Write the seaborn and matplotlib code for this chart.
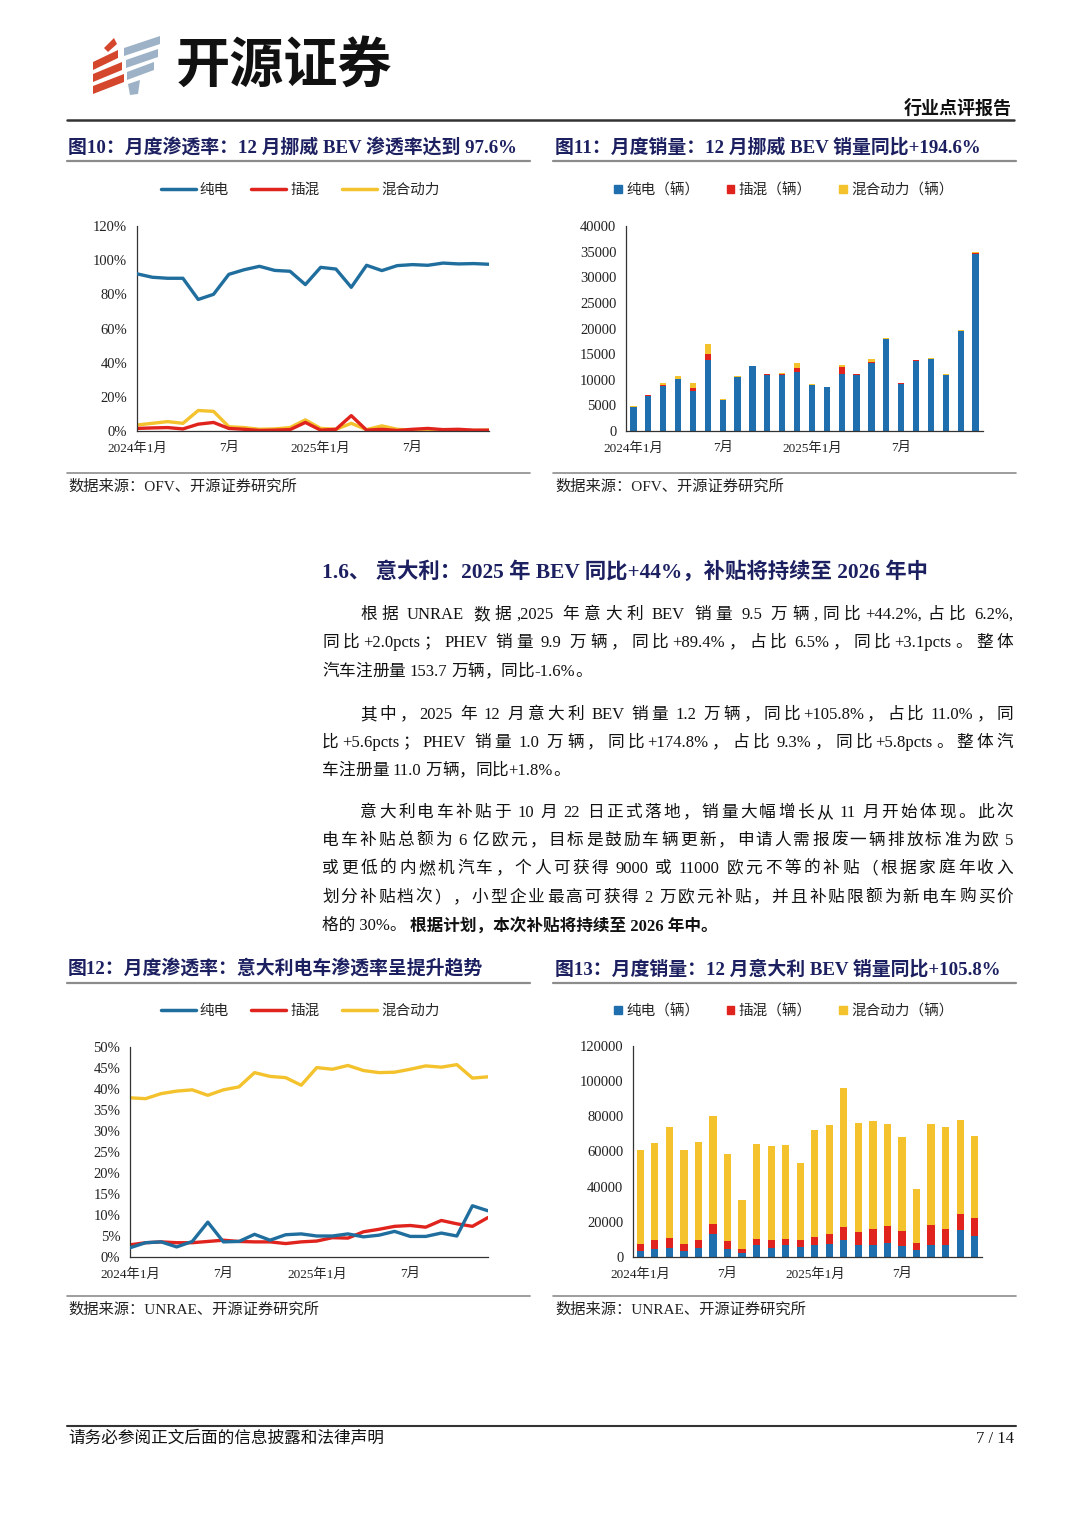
import re
import matplotlib
matplotlib.use("Agg")
import matplotlib.pyplot as plt
import seaborn as sns
from matplotlib.patches import Polygon, Patch
from matplotlib.lines import Line2D

# ---- data ----
months = list(range(24))  # 2024-01 .. 2025-12
tick_pos = [0, 6, 12, 18]
tick_txt = ['2024年1月', '7月', '2025年1月', '7月']

# 挪威 渗透率 (%)
no_bev_pct = [92.0, 90.0, 89.4, 89.4, 77.0, 80.0, 91.7, 94.4, 96.4, 94.0, 93.5, 85.7,
              95.8, 94.8, 84.1, 97.0, 93.9, 96.8, 97.4, 97.0, 98.3, 97.8, 98.0, 97.6]
no_phev_pct = [1.5, 1.8, 2.0, 1.2, 4.0, 5.0, 1.5, 1.0, 0.3, 0.5, 0.8, 5.0,
               0.5, 1.0, 9.0, 0.5, 1.0, 0.3, 1.0, 1.5, 0.8, 1.0, 0.5, 0.5]
no_hev_pct = [3.5, 4.5, 5.5, 4.5, 12.0, 11.5, 2.5, 2.0, 1.0, 1.2, 2.0, 6.5,
              1.5, 1.0, 4.5, 0.8, 3.0, 1.0, 0.5, 0.5, 0.5, 0.3, 0.3, 0.5]

# 挪威 销量 (辆)
no_bev = [4700, 6800, 8800, 10100, 7900, 13900, 6000, 10500, 12600, 11000, 11000, 11500,
          9000, 8500, 11200, 11000, 13300, 17900, 9200, 13600, 14000, 10900, 19500, 34500]
no_phev = [80, 130, 200, 140, 410, 1100, 90, 110, 40, 60, 90, 800,
           50, 90, 1300, 60, 140, 50, 90, 200, 110, 110, 100, 180]
no_hev = [180, 150, 400, 450, 1100, 1900, 100, 150, 100, 120, 200, 1000,
          100, 90, 400, 90, 700, 150, 50, 60, 70, 40, 60, 180]

# 意大利 渗透率 (%)
it_bev_pct = [2.2, 3.4, 3.6, 2.4, 3.7, 8.3, 3.6, 3.7, 5.4, 4.0, 5.3, 5.5,
              5.0, 5.0, 5.5, 4.8, 5.2, 6.1, 4.9, 4.9, 5.7, 5.0, 12.2, 11.0]
it_phev_pct = [2.9, 3.4, 3.6, 3.4, 3.4, 3.7, 4.0, 3.7, 3.6, 3.6, 3.2, 3.6,
               3.8, 4.6, 4.5, 6.0, 6.6, 7.3, 7.5, 7.1, 8.7, 7.9, 7.3, 9.4]
it_hev_pct = [37.9, 37.7, 38.9, 39.5, 39.8, 38.5, 39.8, 40.5, 43.9, 43.0, 42.7, 40.9,
              45.1, 44.7, 45.6, 44.4, 43.9, 44.0, 44.7, 45.5, 45.2, 45.8, 42.6, 42.9]

# 意大利 销量 (辆)
it_bev = [3400, 4700, 5100, 3400, 4900, 13300, 4400, 2500, 6600, 5300, 6600, 5700,
          6600, 7200, 9500, 6600, 7000, 8000, 6100, 3800, 7000, 6600, 15200, 11800]
it_phev = [3800, 4800, 5900, 4200, 4600, 5700, 4500, 2200, 3800, 4200, 3800, 3800,
           4800, 5700, 7600, 7800, 8900, 9500, 8700, 4400, 11200, 9300, 9100, 10400]
it_hev = [53600, 55400, 62700, 53500, 55800, 61100, 49600, 28000, 53600, 53700, 53400, 43900,
          60700, 62100, 78800, 61900, 61400, 57900, 53200, 30300, 57200, 58000, 53400, 46700]

line_labels = ['纯电', '插混', '混合动力']
bar_labels = ['纯电（辆）', '插混（辆）', '混合动力（辆）']

C_BLUE, C_RED, C_YEL = '#1f6fae', '#e0231c', '#f3c22c'
C_LBLUE = '#206e9e'
NAVY = '#1c2060'

sns.set_theme(style='white')
plt.rcParams['font.family'] = ['Liberation Serif', 'Noto Sans CJK SC', 'DejaVu Sans']
plt.rcParams['axes.unicode_minus'] = False

W, H = 1080, 1526
fig = plt.figure(figsize=(W / 100, H / 100), dpi=100)


def box(l, t, r, b):
    return [l / W, 1 - b / H, (r - l) / W, (b - t) / H]


def ftxt(x, y, s, **kw):
    kw.setdefault('va', 'center')
    return fig.text(x / W, 1 - y / H, s, **kw)


def hline(x0, x1, y, lw=1.0, color='#808080'):
    fig.add_artist(Line2D([x0 / W, x1 / W], [1 - y / H, 1 - y / H], lw=lw, color=color))


def justify(x, y, s, right, fontsize=12, **kw):
    # spread the line over x..right like the justified text of the report
    r = fig.canvas.get_renderer()
    toks = re.findall(r'[A-Za-z0-9.+\-%,]+| |.', s)
    sw = 0.25 * fontsize * 100 / 72
    objs, widths = [], []
    for tk in toks:
        if tk == ' ':
            objs.append(None)
            widths.append(sw)
            continue
        o = ftxt(x, y, tk, fontsize=fontsize, **kw)
        objs.append(o)
        widths.append(o.get_window_extent(renderer=r).width)
    n_words = sum(o is not None for o in objs)
    extra = max(0.0, (right - x - sum(widths)) / max(n_words - 1, 1))
    cur = x
    for o, w in zip(objs, widths):
        if o is None:
            cur += w
            continue
        o.set_x(cur / W)
        cur += w + extra


def style_ax(ax, bars=False):
    sns.despine(ax=ax)
    for s in ['left', 'bottom']:
        ax.spines[s].set_color('#333333')
        ax.spines[s].set_linewidth(0.9)
    ax.set_xticks(tick_pos)
    ax.set_xticklabels(tick_txt)
    if bars:
        ax.set_xticks([i + 0.5 for i in range(-1, 24)], minor=True)
    else:
        ax.set_xticks(months, minor=True)
    ax.tick_params(axis='x', which='major', length=0, labelsize=9.5, pad=8, colors='#222222')
    ax.tick_params(axis='x', which='minor', length=3, direction='in', color='#333333')
    ax.tick_params(axis='y', length=3, direction='in', labelsize=10.5, pad=7,
                   colors='#222222', color='#333333')
    ax.set_xlabel('')
    ax.set_ylabel('')
    ax.grid(False)
    ax.set_facecolor('white')


def line_chart(rect, series, ylim, ystep, legend_xy):
    ax = fig.add_axes(box(*rect))
    cols = [C_LBLUE, C_RED, C_YEL]
    for vals, c, z in zip(series, cols, [3, 2, 1]):
        sns.lineplot(x=months, y=vals, color=c, lw=2.4, ax=ax, zorder=z)
    ax.set_xlim(0, 23)
    ax.set_ylim(*ylim)
    ticks = list(range(ylim[0], ylim[1] + 1, ystep))
    ax.set_yticks(ticks)
    ax.set_yticklabels([f'{t}%' for t in ticks])
    style_ax(ax)
    handles = [Line2D([], [], color=c, lw=2.5) for c in cols]
    fig.legend(handles, line_labels, loc='center', ncol=3, frameon=False,
               bbox_to_anchor=(legend_xy[0] / W, 1 - legend_xy[1] / H),
               fontsize=10.5, handlelength=2.4, handletextpad=0.3, columnspacing=1.5)
    return ax


def bar_chart(rect, bev, phev, hev, ylim, ystep, width, legend_xy):
    ax = fig.add_axes(box(*rect))
    red_top = [a + b for a, b in zip(bev, phev)]
    total = [a + b for a, b in zip(red_top, hev)]
    for vals, c in [(total, C_YEL), (red_top, C_RED), (bev, C_BLUE)]:
        sns.barplot(x=months, y=vals, color=c, saturation=1, width=width,
                    linewidth=0, ax=ax, errorbar=None)
    ax.set_xlim(-0.5, 23.5)
    ax.set_ylim(*ylim)
    ax.set_yticks(list(range(ylim[0], ylim[1] + 1, ystep)))
    ax.set_yticklabels([str(t) for t in range(ylim[0], ylim[1] + 1, ystep)])
    style_ax(ax, bars=True)
    handles = [Patch(color=c) for c in [C_BLUE, C_RED, C_YEL]]
    fig.legend(handles, bar_labels, loc='center', ncol=3, frameon=False,
               bbox_to_anchor=(legend_xy[0] / W, 1 - legend_xy[1] / H),
               fontsize=10.5, handlelength=0.5, handleheight=0.5,
               handletextpad=0.3, columnspacing=1.9)
    return ax


# ---- header ----
red_stripes = [[(93, 62), (118, 50), (118, 58), (93, 70)],
               [(93, 74), (122, 62), (122, 70), (93, 82)],
               [(93, 86), (124, 74), (124, 82), (93, 94)],
               [(104, 48), (114, 38), (117, 44), (108, 52)]]
blue_stripes = [[(124, 48), (160, 36), (160, 44), (124, 56)],
                [(126, 60), (158, 49), (158, 57), (126, 68)],
                [(127, 72), (154, 62), (154, 70), (127, 80)],
                [(128, 84), (140, 80), (138, 94), (130, 95)]]
for pts, c in [(p, '#d4472d') for p in red_stripes] + [(p, '#9db2c6') for p in blue_stripes]:
    fig.add_artist(Polygon([(x / W, 1 - y / H) for x, y in pts], closed=True,
                           facecolor=c, edgecolor='none'))
ftxt(176, 66, '开源证券', fontsize=39, fontweight='bold', color='#111111',
     family=['Noto Sans CJK SC'])
ftxt(1012, 109, '行业点评报告', ha='right', fontsize=13, fontweight='bold', color='#111111')
hline(67, 1014, 120, lw=1.8, color='#333333')

# ---- top charts ----
ftxt(68, 147, '图10：月度渗透率：12 月挪威 BEV 渗透率达到 97.6%', fontsize=13.6,
     fontweight='bold', color=NAVY)
ftxt(555, 147, '图11：月度销量：12 月挪威 BEV 销量同比+194.6%', fontsize=13.6,
     fontweight='bold', color=NAVY)
hline(67, 530, 161, lw=1.6, color='#8c8c8c')
hline(553, 1016, 161, lw=1.6, color='#8c8c8c')

line_chart((137, 226, 489, 431), [no_bev_pct, no_phev_pct, no_hev_pct], (0, 120), 20, (300, 190))
bar_chart((626, 226, 983, 431), no_bev, no_phev, no_hev, (0, 40000), 5000, 0.42, (784, 190))

hline(67, 530, 473, lw=1.2, color='#8c8c8c')
hline(553, 1016, 473, lw=1.2, color='#8c8c8c')
ftxt(68, 487, '数据来源：OFV、开源证券研究所', fontsize=11, color='#222222')
ftxt(555, 487, '数据来源：OFV、开源证券研究所', fontsize=11, color='#222222')

# ---- section text ----
ftxt(322, 572, '1.6、 意大利：2025 年 BEV 同比+44%，补贴将持续至 2026 年中', fontsize=15.4,
     fontweight='bold', color=NAVY)

fig.canvas.draw()
full_lines = [
    (360, 615, '根据 UNRAE 数据,2025 年意大利 BEV 销量 9.5 万辆,同比+44.2%,占比 6.2%,'),
    (322, 643, '同比+2.0pcts；PHEV 销量 9.9 万辆，同比+89.4%，占比 6.5%，同比+3.1pcts。整体'),
    (360, 715, '其中，2025 年 12 月意大利 BEV 销量 1.2 万辆，同比+105.8%，占比 11.0%，同'),
    (322, 743, '比+5.6pcts；PHEV 销量 1.0 万辆，同比+174.8%，占比 9.3%，同比+5.8pcts。整体汽'),
    (360, 813, '意大利电车补贴于 10 月 22 日正式落地，销量大幅增长从 11 月开始体现。此次'),
    (322, 841, '电车补贴总额为 6 亿欧元，目标是鼓励车辆更新，申请人需报废一辆排放标准为欧 5'),
    (322, 869, '或更低的内燃机汽车，个人可获得 9000 或 11000 欧元不等的补贴（根据家庭年收入'),
    (322, 898, '划分补贴档次），小型企业最高可获得 2 万欧元补贴，并且补贴限额为新电车购买价'),
]
for x, y, s in full_lines:
    justify(x, y, s, 1013, fontsize=12, color='#111111')
short_lines = [
    (322, 672, '汽车注册量 153.7 万辆，同比-1.6%。'),
    (322, 771, '车注册量 11.0 万辆，同比+1.8%。'),
]
for x, y, s in short_lines:
    justify(x, y, s, 322 + 16.2 * len(s) * 0.0, fontsize=12, color='#111111')

t_last = ftxt(322, 926, '格的 30%。', fontsize=12, color='#111111')
fig.canvas.draw()
bb = t_last.get_window_extent(renderer=fig.canvas.get_renderer())
ftxt(bb.x1 + 3, 926, '根据计划，本次补贴将持续至 2026 年中。', fontsize=12,
     fontweight='bold', color='#111111')

# ---- bottom charts ----
ftxt(68, 969, '图12：月度渗透率：意大利电车渗透率呈提升趋势', fontsize=13.6,
     fontweight='bold', color=NAVY)
ftxt(555, 969, '图13：月度销量：12 月意大利 BEV 销量同比+105.8%', fontsize=13.6,
     fontweight='bold', color=NAVY)
hline(67, 530, 983, lw=1.6, color='#8c8c8c')
hline(553, 1016, 983, lw=1.6, color='#8c8c8c')

line_chart((130, 1047, 488, 1257), [it_bev_pct, it_phev_pct, it_hev_pct], (0, 50), 5, (300, 1011))
bar_chart((633, 1046, 982, 1257), it_bev, it_phev, it_hev, (0, 120000), 20000, 0.5, (784, 1011))

hline(67, 530, 1296, lw=1.2, color='#8c8c8c')
hline(553, 1016, 1296, lw=1.2, color='#8c8c8c')
ftxt(68, 1310, '数据来源：UNRAE、开源证券研究所', fontsize=11, color='#222222')
ftxt(555, 1310, '数据来源：UNRAE、开源证券研究所', fontsize=11, color='#222222')

# ---- footer ----
hline(67, 1016, 1426, lw=1.5, color='#333333')
ftxt(68, 1439, '请务必参阅正文后面的信息披露和法律声明', fontsize=12, color='#111111')
ftxt(1014, 1439, '7 / 14', ha='right', fontsize=12, color='#111111')

fig.savefig('out.png', dpi=100, facecolor='white')
